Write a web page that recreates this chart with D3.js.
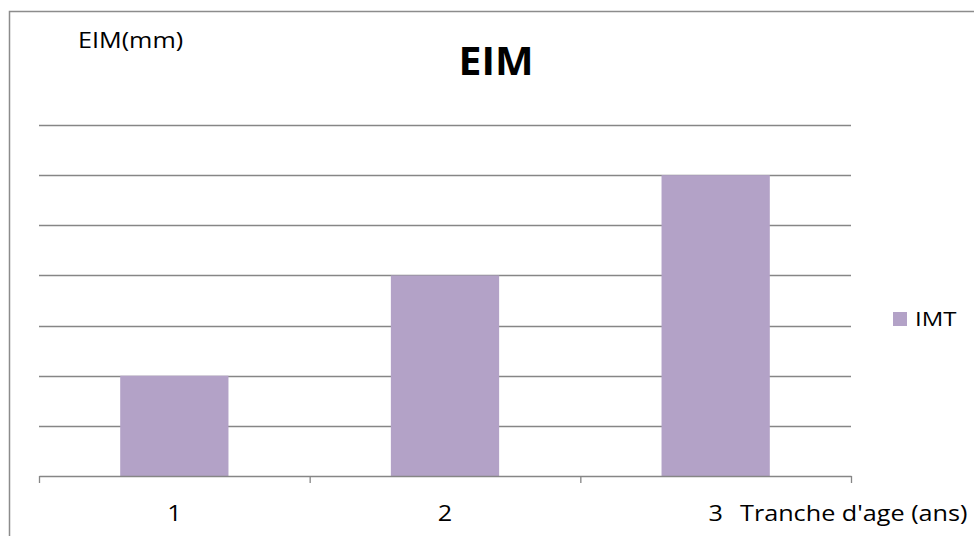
<!DOCTYPE html>
<html>
<head>
<meta charset="utf-8">
<script src="https://cdn.jsdelivr.net/npm/d3@7"></script>
<style>
  body { margin: 0; background: #fff; }
  text { font-family: "Open Sans", sans-serif; fill: #000; }
</style>
</head>
<body>
<div id="chart"></div>
<script>
// data
var categories = ['1', '2', '3'];
var imt = [2, 4, 6];
var y_ticks = [0, 1, 2, 3, 4, 5, 6, 7];

var chart_width  = 974;
var chart_height = 536;
var left = 39, right = 851, top_ = 125, bottom = 476;
var stretch = 1.2; // source picture is a bit wider than tall

var svg = d3.select('#chart')
    .append('svg')
    .attr('width', chart_width)
    .attr('height', chart_height);

// outer frame
svg.append('rect')
    .attr('x', 9.5).attr('y', 11.5)
    .attr('width', 1000).attr('height', 600)
    .attr('fill', 'none')
    .attr('stroke', '#8c8c8c')
    .attr('stroke-width', 1.5);

var x_scale = d3.scaleBand()
    .domain(categories)
    .range([left, right])
    .paddingInner(0.6)
    .paddingOuter(0.3);

var y_scale = d3.scaleLinear()
    .domain([0, 7])
    .range([bottom, top_]);

// gridlines
svg.append('g')
    .selectAll('line')
    .data(y_ticks.slice(1))
    .enter()
    .append('line')
    .attr('x1', left).attr('x2', right)
    .attr('y1', d => Math.round(y_scale(d)) + 0.5)
    .attr('y2', d => Math.round(y_scale(d)) + 0.5)
    .attr('stroke', '#868686')
    .attr('stroke-width', 1.3);

// bars
svg.append('g')
    .selectAll('rect')
    .data(imt)
    .enter()
    .append('rect')
    .attr('x', (d, i) => x_scale(categories[i]))
    .attr('y', d => y_scale(d))
    .attr('width', x_scale.bandwidth())
    .attr('height', d => bottom - y_scale(d))
    .attr('fill', '#b3a2c7');

// x axis with ticks between categories
var tick_scale = d3.scaleLinear().domain([0, 3]).range([left, right]);
var x_axis = d3.axisBottom(tick_scale)
    .tickValues([0, 1, 2, 3])
    .tickSize(7)
    .tickSizeOuter(0)
    .tickFormat('');

var gx = svg.append('g')
    .attr('transform', `translate(0, ${bottom})`)
    .call(x_axis);
gx.selectAll('path, line').attr('stroke', '#868686').attr('stroke-width', 1.3);

function label(txt, x, y, size, anchor) {
    return svg.append('text')
        .text(txt)
        .attr('transform', `translate(${x}, ${y}) scale(${stretch}, 1)`)
        .attr('text-anchor', anchor || 'start')
        .style('font-size', size + 'px');
}

// category labels
categories.forEach(c => label(c, x_scale(c) + x_scale.bandwidth() / 2, 521, 21, 'middle'));

// titles
svg.append('text')
    .text('EIM')
    .attr('transform', 'translate(496, 75) scale(1.05, 1)')
    .attr('text-anchor', 'middle')
    .style('font-size', '39px')
    .style('font-weight', 'bold');

label('EIM(mm)', 78, 48, 21);
label("Tranche d'age (ans)", 740, 521, 21);

// legend
svg.append('rect')
    .attr('x', 893).attr('y', 312)
    .attr('width', 14).attr('height', 14)
    .attr('fill', '#b3a2c7');
label('IMT', 915, 326, 20);
</script>
</body>
</html>
